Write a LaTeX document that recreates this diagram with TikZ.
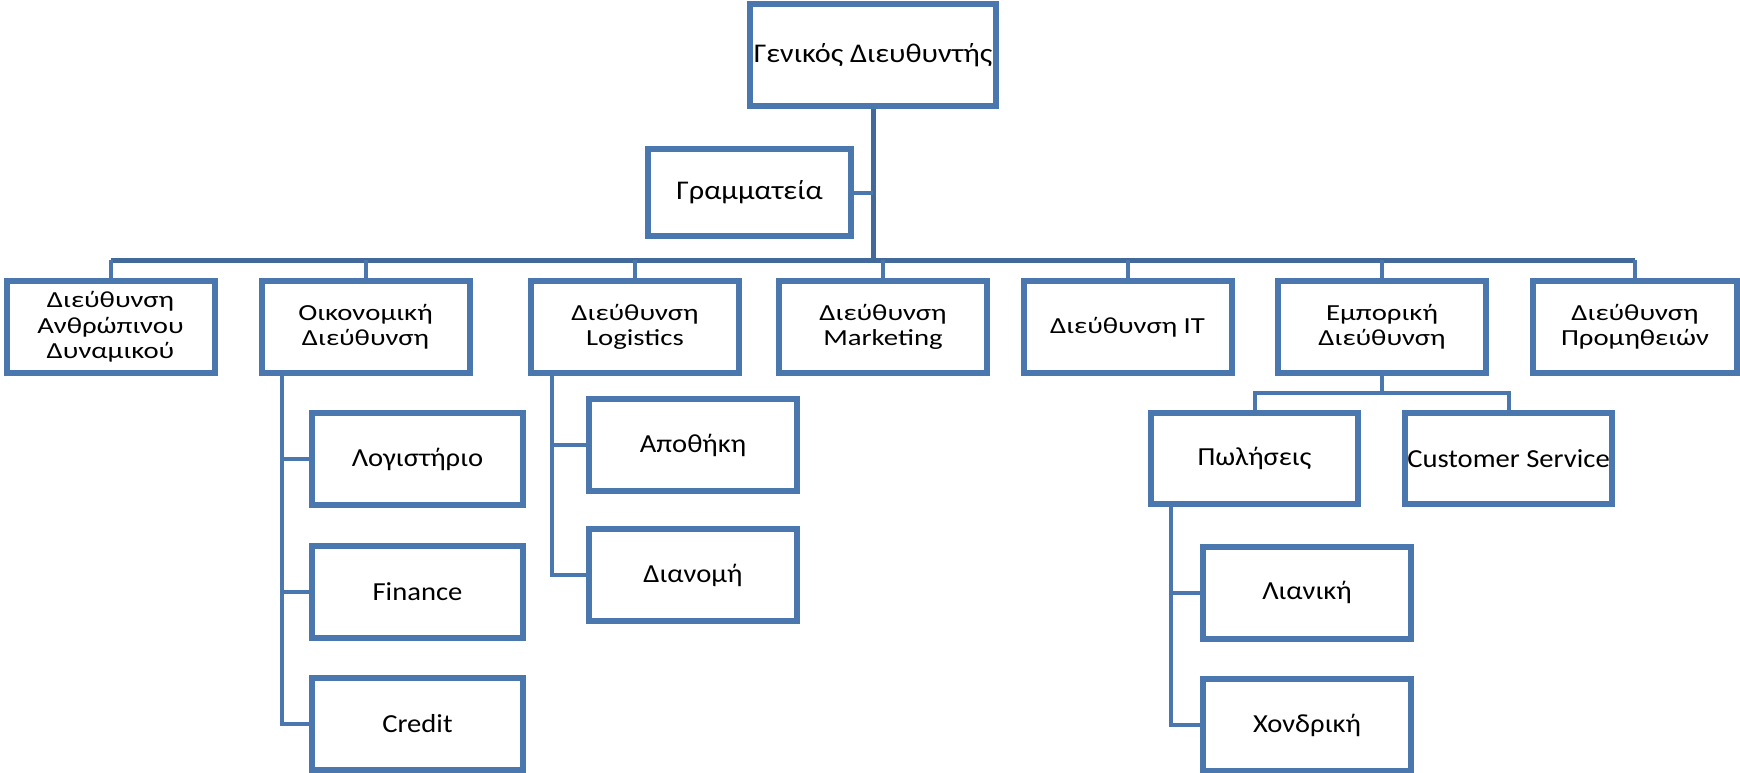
\documentclass[tikz,border=0pt]{standalone}
\usepackage{fontspec}
\setmainfont{Carlito}
\newfontfamily\topfont[FakeStretch=1.12]{Carlito}
\newfontfamily\rowfont[FakeStretch=1.25]{Carlito}
\newfontfamily\subfont[FakeStretch=1.1]{Carlito}
\definecolor{boxc}{HTML}{4A77AE}
\definecolor{busc}{HTML}{41699A}
\begin{document}
\begin{tikzpicture}[x=1pt,y=-1pt,
  bx/.style={draw=boxc, line width=4pt, fill=white, inner sep=0pt, align=center, text=black},
  topbox/.style={bx, font=\topfont\fontsize{27}{32}\selectfont},
  rowbox/.style={bx, minimum width=206pt, minimum height=90pt, font=\rowfont\fontsize{23}{25.5}\selectfont},
  subbox/.style={bx, minimum height=90pt, font=\subfont\fontsize{26}{30}\selectfont},
  conn/.style={draw=boxc, line width=4pt},
  busline/.style={draw=busc, line width=5pt}
]
\useasboundingbox (0,0) rectangle (1740,773);

\coordinate (busL) at (110,260);
\coordinate (sb) at (1383,393);
\coordinate (oikx) at (282,0);
\coordinate (logx) at (552,0);
\coordinate (polx) at (1171,0);

\node[topbox, minimum width=244pt, minimum height=100pt] (gd) at (873,55) {Γενικός Διευθυντής};
\node[topbox, minimum width=201pt, minimum height=85pt] (gr) at (749.5,192.5) {Γραμματεία};

\node[rowbox] (r1) at (110.5,327) {Διεύθυνση\\Ανθρώπινου\\Δυναμικού};
\node[rowbox] (r2) at (365.5,327) {Οικονομική\\Διεύθυνση};
\node[rowbox] (r3) at (635,327) {Διεύθυνση\\Logistics};
\node[rowbox] (r4) at (883,327) {Διεύθυνση\\Marketing};
\node[rowbox] (r5) at (1127.5,327) {Διεύθυνση IT};
\node[rowbox] (r6) at (1382,327) {Εμπορική\\Διεύθυνση};
\node[rowbox, minimum width=202pt] (r7) at (1635,327) {Διεύθυνση\\Προμηθειών};

\node[subbox, minimum width=209pt] (lo) at (417.5,459) {Λογιστήριο};
\node[subbox, minimum width=209pt] (fi) at (417.5,592) {Finance};
\node[subbox, minimum width=209pt] (cr) at (417.5,724) {Credit};

\node[subbox, minimum width=206pt] (ap) at (693,445) {Αποθήκη};
\node[subbox, minimum width=206pt] (di) at (693,575) {Διανομή};

\node[subbox, minimum width=205pt, minimum height=89pt] (po) at (1254.5,458.5) {Πωλήσεις};
\node[subbox, minimum width=205pt, minimum height=89pt] (cs) at (1508.5,458.5) {Customer Service};

\node[subbox, minimum width=206pt] (li) at (1307,592.5) {Λιανική};
\node[subbox, minimum width=206pt] (ch) at (1307,725) {Χονδρική};

% top trunk and bus
\draw[busline] (gd.south) -- (gd.south |- busL);
\draw[conn] (gr.east) -- (gr.east -| gd.south);
\draw[busline] (r1.north |- busL) -- (r7.north |- busL);
\foreach \n in {r1,r2,r3,r4,r5,r6,r7}
  \draw[conn] (\n.north) -- (\n.north |- busL);

% Oikonomiki children
\draw[conn] (r2.south -| oikx) -- (cr.west -| oikx) -- (cr.west);
\draw[conn] (lo.west) -- (lo.west -| oikx);
\draw[conn] (fi.west) -- (fi.west -| oikx);

% Logistics children
\draw[conn] (r3.south -| logx) -- (di.west -| logx) -- (di.west);
\draw[conn] (ap.west) -- (ap.west -| logx);

% Emporiki children
\draw[conn] (r6.south) -- (r6.south |- sb);
\draw[conn] (po.north) -- (po.north |- sb) -- (cs.north |- sb) -- (cs.north);
\draw[conn] (po.south -| polx) -- (ch.west -| polx) -- (ch.west);
\draw[conn] (li.west) -- (li.west -| polx);

% redraw box borders on top of connector ends
\foreach \n in {gd,gr,r1,r2,r3,r4,r5,r6,r7,lo,fi,cr,ap,di,po,cs,li,ch}
  \draw[draw=boxc, line width=4pt] (\n.south west) rectangle (\n.north east);
\end{tikzpicture}
\end{document}
